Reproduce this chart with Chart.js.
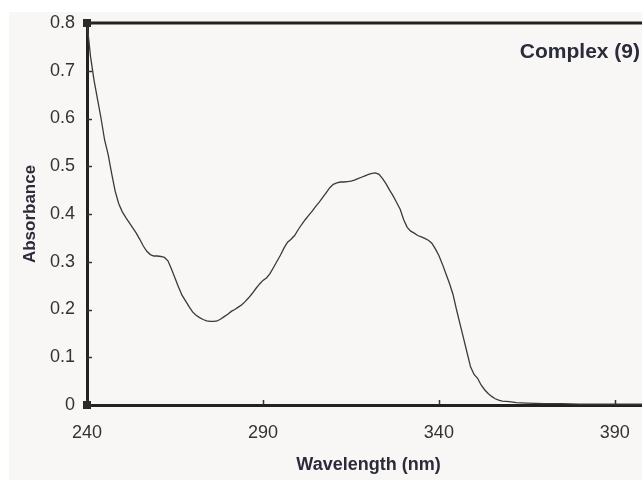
<!DOCTYPE html>
<html><head><meta charset="utf-8">
<script src="https://cdn.jsdelivr.net/npm/chart.js@4/dist/chart.umd.min.js"></script>
<style>
html,body{margin:0;padding:0;overflow:hidden;background:#fff;width:642px;height:480px}
#wrap{position:absolute;left:0;top:0;width:650px;height:480px}
canvas{display:block}
</style></head><body>
<div id="wrap"><canvas id="c" width="650" height="480"></canvas></div>
<script>
// ---- data ----
const seriesLabel = 'Complex (9)';
const xTitle = 'Wavelength (nm)';
const yTitle = 'Absorbance';
const xTicks = [240, 290, 340, 390];
const yTicks = [0, 0.1, 0.2, 0.3, 0.4, 0.5, 0.6, 0.7, 0.8];
const wavelengths = [
  240, 241, 242, 243, 244, 245, 246, 247, 248, 249,
  250, 251, 252, 253, 254, 255, 256, 257, 258, 259,
  260, 261, 262, 263, 264, 265, 266, 267, 268, 269,
  270, 271, 272, 273, 274, 275, 276, 277, 278, 279,
  280, 281, 282, 283, 284, 285, 286, 287, 288, 289,
  290, 291, 292, 293, 294, 295, 296, 297, 298, 299,
  300, 301, 302, 303, 304, 305, 306, 307, 308, 309,
  310, 311, 312, 313, 314, 315, 316, 317, 318, 319,
  320, 321, 322, 323, 324, 325, 326, 327, 328, 329,
  330, 331, 332, 333, 334, 335, 336, 337, 338, 339,
  340, 341, 342, 343, 344, 345, 346, 347, 348, 349,
  350, 351, 352, 353, 354, 355, 356, 357, 358, 360,
  362, 365, 370, 375, 380, 385, 390, 395, 400
];
const absorbance = [
  0.800, 0.730, 0.680, 0.640, 0.600, 0.555, 0.525, 0.485, 0.448, 0.422,
  0.405, 0.393, 0.382, 0.371, 0.360, 0.347, 0.333, 0.322, 0.315, 0.312,
  0.312, 0.311, 0.309, 0.302, 0.285, 0.266, 0.247, 0.230, 0.218, 0.206,
  0.195, 0.188, 0.183, 0.179, 0.176, 0.175, 0.175, 0.176, 0.180, 0.185,
  0.190, 0.196, 0.200, 0.205, 0.210, 0.217, 0.225, 0.234, 0.244, 0.253,
  0.261, 0.266, 0.275, 0.288, 0.301, 0.314, 0.329, 0.341, 0.347, 0.355,
  0.367, 0.378, 0.388, 0.397, 0.406, 0.416, 0.425, 0.435, 0.445, 0.455,
  0.462, 0.465, 0.467, 0.467, 0.468, 0.469, 0.471, 0.474, 0.477, 0.480,
  0.483, 0.485, 0.486, 0.483, 0.474, 0.463, 0.450, 0.438, 0.424, 0.410,
  0.388, 0.372, 0.364, 0.360, 0.355, 0.352, 0.349, 0.345, 0.339, 0.327,
  0.313, 0.295, 0.275, 0.255, 0.232, 0.200, 0.170, 0.140, 0.110, 0.080,
  0.064, 0.056, 0.042, 0.032, 0.024, 0.018, 0.013, 0.010, 0.008, 0.007,
  0.005, 0.004, 0.003, 0.003, 0.002, 0.002, 0.002, 0.002, 0.002
];
// ---------------------------------------

const points = wavelengths.map((w, i) => ({x: w, y: absorbance[i]}));
const ink = '#222222';

const decor = {
  id: 'decor',
  beforeDraw(chart) {
    const ctx = chart.ctx;
    ctx.save();
    ctx.fillStyle = '#ffffff';
    ctx.fillRect(0, 0, chart.width, chart.height);
    ctx.fillStyle = '#f8f7f5';
    ctx.fillRect(9, 12, chart.width - 9, chart.height - 12);
    ctx.restore();
  },
  afterDraw(chart) {
    const ctx = chart.ctx;
    const a = chart.chartArea;
    const xs = chart.scales.x, ys = chart.scales.y;
    ctx.save();
    // top frame line
    ctx.strokeStyle = ink;
    ctx.lineWidth = 3;
    ctx.beginPath();
    ctx.moveTo(a.left - 1.5, a.top);
    ctx.lineTo(a.right, a.top);
    ctx.stroke();
    // inner tick marks
    ctx.lineWidth = 1.5;
    ctx.strokeStyle = '#333';
    yTicks.forEach(v => {
      const y = Math.round(ys.getPixelForValue(v)) + 0.5;
      ctx.beginPath(); ctx.moveTo(a.left, y); ctx.lineTo(a.left + 5, y); ctx.stroke();
    });
    xTicks.forEach(v => {
      const x = Math.round(xs.getPixelForValue(v)) + 0.5;
      ctx.beginPath(); ctx.moveTo(x, a.bottom); ctx.lineTo(x, a.bottom - 5); ctx.stroke();
    });
    // corner markers
    ctx.fillStyle = '#2a2a2a';
    ctx.fillRect(a.left - 4, a.top - 4, 8, 8);
    ctx.fillRect(a.left - 4, a.bottom - 4, 8, 8);
    // series label
    ctx.fillStyle = '#2b2b3a';
    ctx.font = 'bold 21px "Liberation Sans", Arial, sans-serif';
    ctx.textAlign = 'right';
    ctx.textBaseline = 'middle';
    ctx.fillText(chart.data.datasets[0].label, 640, 52);
    ctx.restore();
  }
};

new Chart(document.getElementById('c'), {
  type: 'scatter',
  data: {
    datasets: [{
      label: seriesLabel,
      data: points,
      showLine: true,
      borderColor: '#3a3a3a',
      borderWidth: 1.3,
      pointRadius: 0,
      tension: 0,
      fill: false
    }]
  },
  options: {
    responsive: false,
    animation: false,
    devicePixelRatio: 1,
    layout: {padding: {top: 23, left: 0, right: 0, bottom: 0}},
    plugins: {legend: {display: false}, tooltip: {enabled: false}},
    scales: {
      x: {
        type: 'linear',
        min: 240, max: 400,
        afterBuildTicks: s => { s.ticks = xTicks.map(v => ({value: v})); },
        afterFit: s => { s.height = 75; },
        grid: {display: true, drawOnChartArea: false, drawTicks: false},
        border: {display: true, width: 3, color: ink},
        ticks: {
          padding: 17, color: '#333',
          font: {family: '"Liberation Sans", Arial, sans-serif', size: 18},
          callback: v => String(v)
        },
        title: {
          display: true, text: xTitle, color: '#2b2b3a',
          font: {family: '"Liberation Sans", Arial, sans-serif', size: 18, weight: 'bold'},
          padding: {top: 0, bottom: 4}
        }
      },
      y: {
        type: 'linear',
        min: 0, max: 0.8,
        afterBuildTicks: s => { s.ticks = yTicks.map(v => ({value: v})); },
        afterFit: s => { s.width = 87; },
        grid: {display: true, drawOnChartArea: false, drawTicks: false},
        border: {display: true, width: 3, color: ink},
        ticks: {
          padding: 12, color: '#333',
          font: {family: '"Liberation Sans", Arial, sans-serif', size: 18},
          callback: v => String(Math.round(v * 10) / 10)
        },
        title: {
          display: true, text: yTitle, color: '#2b2b3a',
          font: {family: '"Liberation Sans", Arial, sans-serif', size: 17, weight: 'bold'},
          padding: {top: 20, bottom: 0}
        }
      }
    }
  },
  plugins: [decor]
});
</script>
</body></html>
